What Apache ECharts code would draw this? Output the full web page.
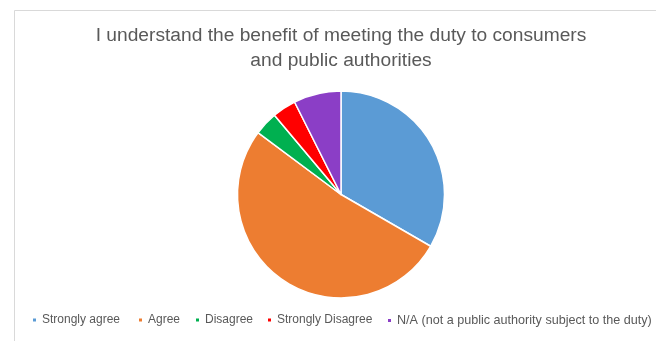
<!DOCTYPE html>
<html>
<head>
<meta charset="utf-8">
<script src="https://cdn.jsdelivr.net/npm/echarts@6/dist/echarts.min.js"></script>
<style>
html,body{margin:0;padding:0;background:#fff;}
#c{width:656px;height:341px;}
</style>
</head>
<body>
<div id="c"></div>
<script>
const titleText = "I understand the benefit of meeting the duty to consumers\nand public authorities";
const categories = ["Strongly agree", "Agree", "Disagree", "Strongly Disagree", "N/A (not a public authority subject to the duty)"];
const values = [9, 14, 1, 1, 2];
const colors = ["#5B9BD5", "#ED7D31", "#00B050", "#FF0000", "#8B3EC6"];
const legendLeft = [31, 137, 194, 266, 386];

const chart = echarts.init(document.getElementById('c'), null, {renderer: 'canvas'});
chart.setOption({
  animation: false,
  backgroundColor: '#ffffff',
  color: colors,
  graphic: [{
    type: 'rect',
    shape: {x: 14.5, y: 10.5, width: 700, height: 400},
    style: {fill: 'none', stroke: '#d9d9d9', lineWidth: 1},
    silent: true, z: -1
  }],
  title: {
    text: titleText,
    left: 341, top: 23,
    padding: 0,
    textAlign: 'center',
    textStyle: {fontFamily: 'Liberation Sans', fontSize: 19.2, fontWeight: 'normal', color: '#595959', lineHeight: 25}
  },
  legend: categories.map((c, i) => ({
    left: legendLeft[i], top: 314, padding: 0,
    icon: 'rect', itemWidth: 5, itemHeight: 5,
    textStyle: {fontFamily: 'Liberation Sans', fontSize: i === 4 ? 12.6 : 12, color: '#595959'},
    data: [c]
  })),
  series: [{
    type: 'pie',
    center: [341, 194.5],
    radius: 103.5,
    startAngle: 90,
    clockwise: true,
    label: {show: false},
    labelLine: {show: false},
    itemStyle: {borderColor: '#ffffff', borderWidth: 1.5},
    emphasis: {disabled: true},
    data: categories.map((c, i) => ({name: c, value: values[i], itemStyle: {color: colors[i]}}))
  }]
});
</script>
</body>
</html>
